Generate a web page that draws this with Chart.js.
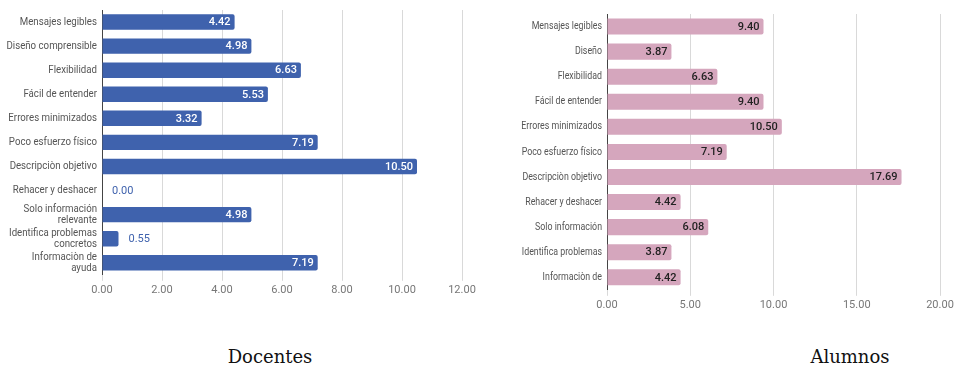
<!DOCTYPE html>
<html>
<head>
<meta charset="utf-8">
<script src="https://cdn.jsdelivr.net/npm/chart.js@4.4.1/dist/chart.umd.min.js"></script>
<style>
  html, body { margin:0; padding:0; background:#fff; }
  body { width:958px; height:369px; position:relative; overflow:hidden; }
  .box { position:absolute; }
  #boxDoc { left:0; top:0; width:480px; height:300px; }
  #boxAlu { left:480px; top:0; width:478px; height:315px; }
  .title { position:absolute; font-family:"DejaVu Serif",serif; font-size:18px; line-height:18px; color:#111; transform:translateX(-50%); white-space:nowrap; }
</style>
</head>
<body>
<div class="box" id="boxDoc"><canvas id="chartDoc"></canvas></div>
<div class="box" id="boxAlu"><canvas id="chartAlu"></canvas></div>
<div class="title" style="left:270px; top:348px;">Docentes</div>
<div class="title" style="left:850px; top:348px;">Alumnos</div>
<script>
/* ====== DATA ====== */
const docentesLabels = [
  "Mensajes legibles", "Diseño comprensible", "Flexibilidad", "Fácil de entender",
  "Errores minimizados", "Poco esfuerzo físico", "Descripciòn objetivo", "Rehacer y deshacer",
  ["Solo información", "relevante"], ["Identifica problemas", "concretos"], ["Informaciòn de", "ayuda"]
];
const docentesValues = [4.42, 4.98, 6.63, 5.53, 3.32, 7.19, 10.50, 0.00, 4.98, 0.55, 7.19];

const alumnosLabels = [
  "Mensajes legibles", "Diseño", "Flexibilidad", "Fácil de entender",
  "Errores minimizados", "Poco esfuerzo físico", "Descripciòn objetivo", "Rehacer y deshacer",
  "Solo información", "Identifica problemas", "Informaciòn de"
];
const alumnosValues = [9.40, 3.87, 6.63, 9.40, 10.50, 7.19, 17.69, 4.42, 6.08, 3.87, 4.42];

const docentesTicks = { max: 12, step: 2 };
const alumnosTicks = { max: 20, step: 5 };

/* ====== CATEGORY LABELS ====== */
// narrow category labels: Roboto squeezed horizontally, right-aligned against the axis
const narrowLabels = {
  id: "narrowLabels",
  afterDraw(chart, args, opts){
    const ctx = chart.ctx;
    const y = chart.scales.y;
    const xr = chart.chartArea.left - 5;
    ctx.save();
    ctx.font = opts.size + "px Roboto";
    ctx.fillStyle = "#555";
    ctx.textAlign = "right";
    ctx.textBaseline = "middle";
    chart.data.labels.forEach((lab, i)=>{
      const lines = Array.isArray(lab) ? lab : [lab];
      const cy = y.getPixelForValue(i);
      lines.forEach((t, k)=>{
        const ly = cy + (k - (lines.length - 1) / 2) * opts.lineHeight;
        ctx.save();
        ctx.translate(xr, ly);
        ctx.scale(opts.squeeze, 1);
        ctx.fillText(t, 0, 0);
        ctx.restore();
      });
    });
    ctx.restore();
  }
};

/* ====== VALUE LABELS ====== */
// draws the value at the end of each bar: inside if it fits, otherwise just past it
const valueLabels = {
  id: "valueLabels",
  afterDatasetsDraw(chart, args, opts){
    const ctx = chart.ctx;
    const meta = chart.getDatasetMeta(0);
    const data = chart.data.datasets[0].data;
    ctx.save();
    ctx.textBaseline = "middle";
    meta.data.forEach((bar, i)=>{
      const txt = data[i].toFixed(2);
      const len = bar.x - bar.base;
      ctx.font = "500 11px Roboto";
      const w = ctx.measureText(txt).width;
      if (len > w + 10){
        ctx.fillStyle = opts.inside;
        ctx.textAlign = "right";
        ctx.fillText(txt, bar.x - 4, bar.y + 0.5);
      } else {
        ctx.font = "11px Roboto";
        ctx.fillStyle = opts.outside;
        ctx.textAlign = "left";
        ctx.fillText(txt, bar.x + 10, bar.y + 0.5);
      }
    });
    ctx.restore();
  }
};

function makeChart(id, labels, values, color, ticks, yWidth, pad, inside, outside, lab){
  return new Chart(document.getElementById(id), {
    type: "bar",
    data: { labels, datasets: [{ data: values, backgroundColor: color, borderRadius: 2, borderSkipped: "start",
      barPercentage: 0.64, categoryPercentage: 1 }] },
    plugins: [valueLabels, narrowLabels],
    options: {
      indexAxis: "y",
      responsive: true,
      maintainAspectRatio: false,
      animation: false,
      layout: { padding: pad },
      plugins: {
        legend: { display: false },
        tooltip: { enabled: false },
        valueLabels: { inside, outside },
        narrowLabels: lab
      },
      scales: {
        x: {
          min: 0, max: ticks.max,
          ticks: { stepSize: ticks.step, color: "#777", font: { family: "Roboto", size: 11 }, padding: 3,
            callback: v => Number(v).toFixed(2) },
          grid: { color: "#d9d9d9", drawTicks: true, tickLength: 6 },
          border: { display: false }
        },
        y: {
          ticks: { display: false },
          grid: { display: false, drawTicks: false },
          border: { display: true, color: "#444", width: 1 },
          afterFit: s => { s.width = yWidth; }
        }
      }
    }
  });
}

makeChart("chartDoc", docentesLabels, docentesValues, "#3f62ad", docentesTicks, 102,
  { top: 10, right: 18, bottom: 0, left: 0 }, "#ffffff", "#3f62ad",
  { size: 11, squeeze: 0.88, lineHeight: 11 });
makeChart("chartAlu", alumnosLabels, alumnosValues, "#d5a6bd", alumnosTicks, 127,
  { top: 14, right: 18, bottom: 0, left: 0 }, "#222222", "#222222",
  { size: 10.5, squeeze: 0.84, lineHeight: 11 });
</script>
</body>
</html>
